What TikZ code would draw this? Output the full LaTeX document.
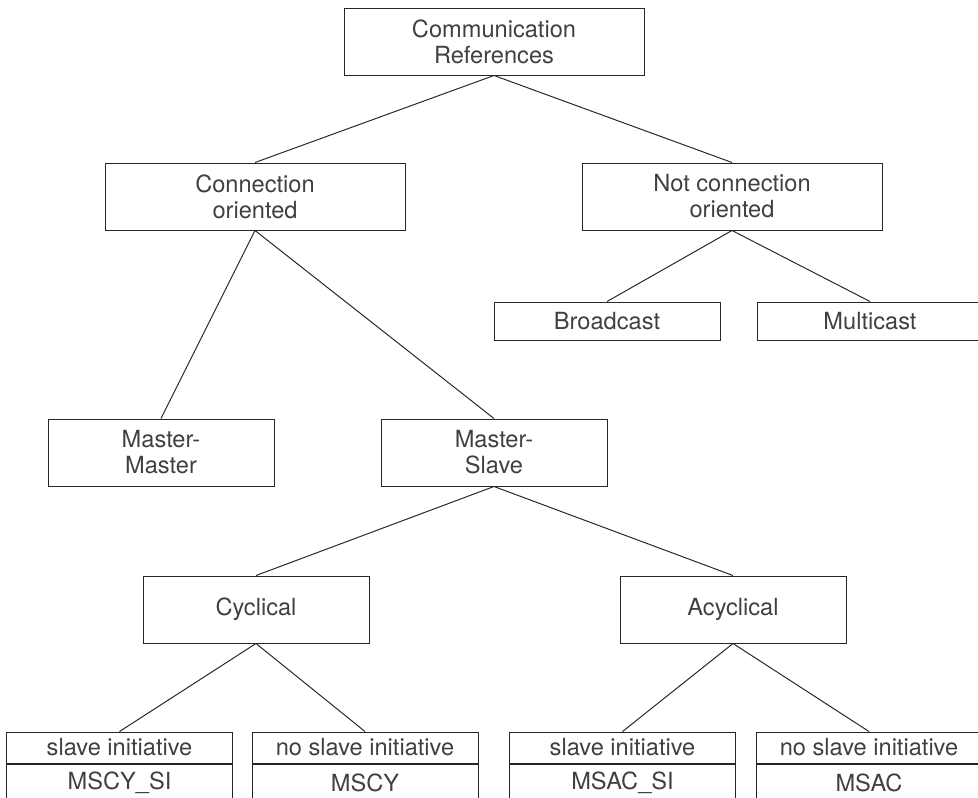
\documentclass[tikz,border=0pt]{standalone}
\usepackage{fontspec}
\setmainfont{TeX Gyre Heros}
\usepackage{tikz}
\usetikzlibrary{positioning}

\begin{document}
\begin{tikzpicture}[
  every node/.style={text=black!75, font=\fontsize{16.8}{18.5}\selectfont},
  bigbox/.style={draw=black!85, line width=0.7pt, align=center, minimum width=7.5cm, minimum height=1.675cm},
  box/.style={draw=black!85, line width=0.7pt, align=center, minimum width=5.65cm, minimum height=1.675cm},
  flatbox/.style={draw=black!85, line width=0.7pt, minimum width=5.65cm, minimum height=0.95cm},
  cellA/.style={draw=black!85, line width=0.7pt, minimum width=5.65cm, minimum height=0.775cm, inner sep=0pt},
  cellB/.style={draw=black!85, line width=0.7pt, minimum width=5.65cm, minimum height=0.925cm, inner sep=0pt},
  link/.style={line width=0.7pt, draw=black!85}]
\useasboundingbox (0,0) rectangle (24.45,-19.95);
\clip (0,0) rectangle (24.45,-19.95);

\node[bigbox] at (12.35,-1.0375) (top) {Communication\\References};

\node[bigbox] at (6.375,-4.9125) (connA) {Connection\\oriented};
\node[bigbox] at (18.3,-4.9125) (connB) {Not connection\\oriented};

\node[flatbox] at (15.175,-8.025) (castA) {Broadcast};
\node[flatbox] at (21.75,-8.025) (castB) {Multicast};

\node[box] at (4.025,-11.3125) (masterA) {Master-\\Master};
\node[box] at (12.35,-11.3125) (masterB) {Master-\\Slave};

\node[box] at (6.4,-15.2375) (cycA) {Cyclical};
\node[box] at (18.325,-15.2375) (cycB) {Acyclical};

% bottom row, two cells each
\node[cellA] at (2.9875,-18.6875) (initA) {slave initiative};
\node[cellA] at (9.125,-18.6875) (initB) {no slave initiative};
\node[cellA] at (15.5625,-18.6875) (initC) {slave initiative};
\node[cellA] at (21.725,-18.6875) (initD) {no slave initiative};

\node[cellB, below=0pt of initA] (refA) {MSCY\_SI};
\node[cellB, below=0pt of initB] (refB) {MSCY};
\node[cellB, below=0pt of initC] (refC) {MSAC\_SI};
\node[cellB, below=0pt of initD] (refD) {MSAC};

\draw[link] (top.south) -- (connA.north);
\draw[link] (top.south) -- (connB.north);

\draw[link] (connB.south) -- (castA.north);
\draw[link] (connB.south) -- (castB.north);

\draw[link] (connA.south) -- (masterA.north);
\draw[link] (connA.south) -- (masterB.north);

\draw[link] (masterB.south) -- (cycA.north);
\draw[link] (masterB.south) -- (cycB.north);

\draw[link] (cycA.south) -- (initA.north);
\draw[link] (cycA.south) -- (initB.north);
\draw[link] (cycB.south) -- (initC.north);
\draw[link] (cycB.south) -- (initD.north);

\end{tikzpicture}
\end{document}
